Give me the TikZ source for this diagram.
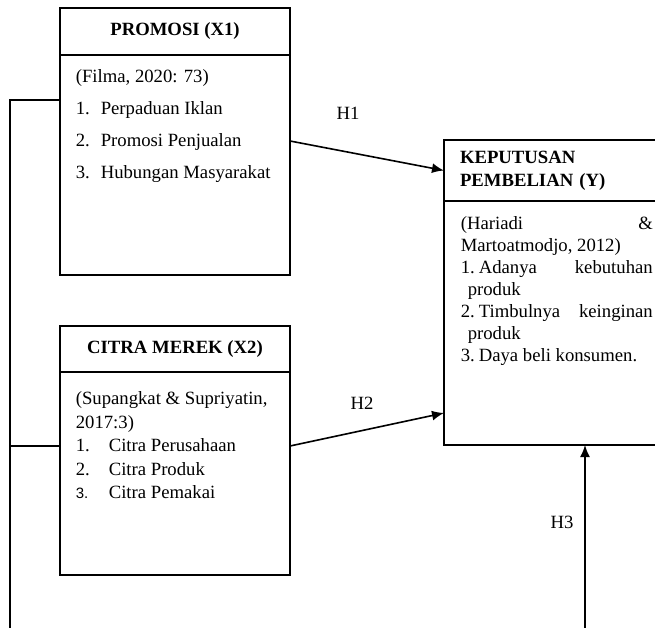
\documentclass[tikz,border=0pt]{standalone}
\usepackage{fontspec}
\setmainfont{Liberation Serif}
\newfontfamily\numfont{Liberation Sans}
\usetikzlibrary{positioning, arrows.meta}

\begin{document}
\begin{tikzpicture}[x=1pt, y=-1pt, line width=1.6pt,
  every node/.style={font=\fontsize{18.7}{22}\selectfont},
  hbox/.style={draw, rectangle, outer sep=0pt, inner sep=0pt, font=\fontsize{18.7}{23}\selectfont\bfseries},
  bbox/.style={draw, rectangle, outer sep=0pt, inner sep=0pt},
  txt/.style={anchor=north west, inner sep=0pt, text width=#1, align=justify},
  arr/.style={-{Latex[length=12pt, width=10pt]}}]
\useasboundingbox (0,0) rectangle (655,628);
\clip (0,0) rectangle (655,628);
% promosi
\node[hbox, minimum width=230pt, minimum height=47pt, anchor=north west] (x1h) at (60,8) {PROMOSI (X1)};
\node[bbox, minimum width=230pt, minimum height=220pt, below=0pt of x1h] (x1b) {};
\node[txt=210pt, font=\fontsize{18.7}{32}\selectfont] (x1t) at (75,69) {(Filma, 2020: 73)\\
  \makebox[25pt][l]{1.}Perpaduan Iklan\\
  \makebox[25pt][l]{2.}Promosi Penjualan\\
  \makebox[25pt][l]{3.}Hubungan Masyarakat};
% citra merek
\node[hbox, minimum width=230pt, minimum height=46pt, anchor=north west] (x2h) at (60,326) {CITRA MEREK (X2)};
\node[bbox, minimum width=230pt, minimum height=203pt, below=0pt of x2h] (x2b) {};
\node[txt=212pt, font=\fontsize{18.7}{23.5}\selectfont] (x2t) at (75,391) {(Supangkat \& Supriyatin,\\
  2017:3)\\
  \makebox[33pt][l]{1.}Citra Perusahaan\\
  \makebox[33pt][l]{2.}Citra Produk\\
  \makebox[33pt][l]{\numfont\fontsize{15}{23.5}\selectfont 3.}Citra Pemakai};
% keputusan pembelian
\node[hbox, minimum width=218pt, minimum height=61pt, anchor=north west, text width=186pt, inner xsep=16pt, align=left] (yh) at (444,140) {KEPUTUSAN\\ PEMBELIAN (Y)};
\node[bbox, minimum width=218pt, minimum height=244pt, below=0pt of yh] (yb) {};
\node[txt=192pt, font=\fontsize{18.7}{22}\selectfont] (yt) at (460,216) {(Hariadi\hfill\&\\
  Martoatmodjo, 2012)\\
  \makebox[18pt][l]{1.}Adanya\hfill kebutuhan\\
  \hspace*{7pt}produk\\
  \makebox[18pt][l]{2.}Timbulnya\hfill keinginan\\
  \hspace*{7pt}produk\\
  \makebox[18pt][l]{3.}Daya beli konsumen.};
% hipotesis
\draw[arr] ([yshift=24pt]x1b.east) -- (yh.west);
\node (h1) at (348,113) {H1};
\draw[arr] ([yshift=27.5pt]x2b.east) -- ([yshift=-90pt]yb.west);
\node (h2) at (362,403) {H2};
\coordinate (lc) at (10,640);
\coordinate (j2) at (10,446);
\draw ([yshift=65pt]x1b.west) -| (lc);
\draw ([yshift=27.5pt]x2b.west) -- (j2);
\coordinate (h3s) at (585,640);
\draw[arr] (h3s) -- (h3s |- yb.south);
\node (h3) at (562,522) {H3};
\end{tikzpicture}
\end{document}
